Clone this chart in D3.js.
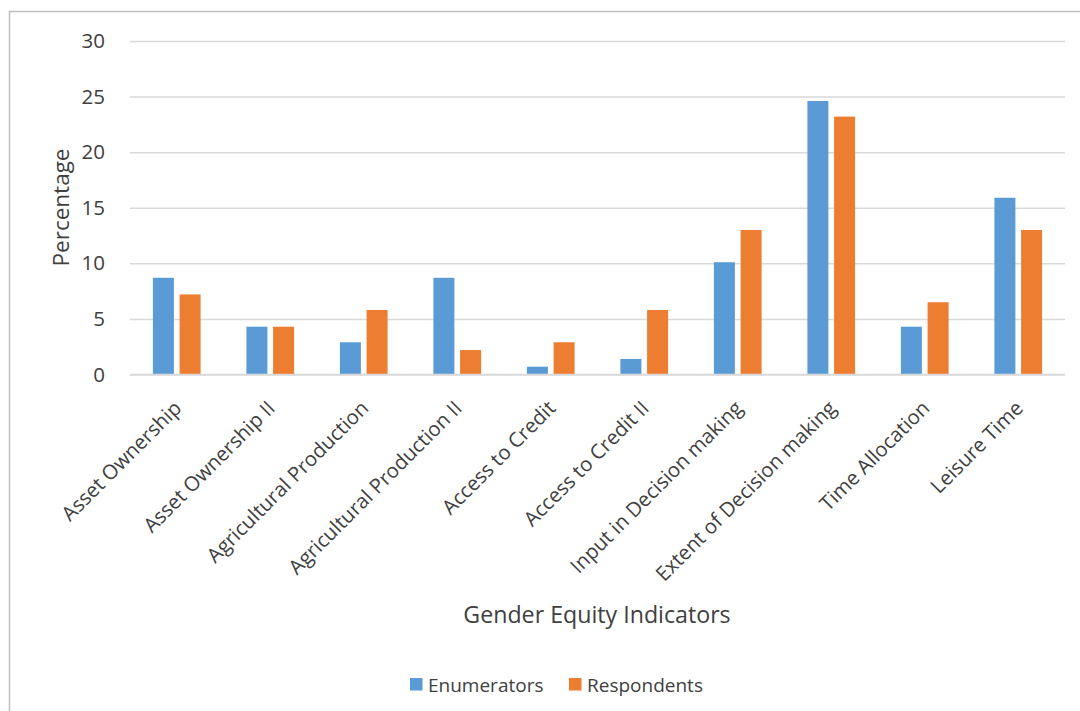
<!DOCTYPE html>
<html>
<head>
<meta charset="utf-8">
<script src="https://cdn.jsdelivr.net/npm/d3@7"></script>
<style>
  html, body { margin: 0; padding: 0; background: #fff; }
  svg { display: block; }
  text { font-family: "Open Sans", "Noto Sans", sans-serif; fill: #404040; }
</style>
</head>
<body>
<svg id="chart" width="1080" height="711"></svg>
<script>
const categories = [
  "Asset Ownership", "Asset Ownership II", "Agricultural Production",
  "Agricultural Production II", "Access to Credit", "Access to Credit II",
  "Input in Decision making", "Extent of Decision making", "Time Allocation", "Leisure Time"
];
const seriesNames = ["Enumerators", "Respondents"];
const enumerators = [8.7, 4.3, 2.9, 8.7, 0.7, 1.4, 10.1, 24.6, 4.3, 15.9];
const respondents = [7.2, 4.3, 5.8, 2.2, 2.9, 5.8, 13.0, 23.2, 6.5, 13.0];
const yTicks = [0, 5, 10, 15, 20, 25, 30];
const colors = ["#5b9bd5", "#ed7d31"];
const xTitle = "Gender Equity Indicators";
const yTitle = "Percentage";

const svg = d3.select("#chart");

// chart area border (extends beyond the right and bottom of the view)
svg.append("rect")
  .attr("x", 9.5).attr("y", 11.5)
  .attr("width", 1200).attr("height", 800)
  .attr("fill", "none").attr("stroke", "#bfbfbf").attr("stroke-width", 1.5);

const plot = { left: 130, right: 1065, top: 41, bottom: 374.5 };

const x0 = d3.scaleBand().domain(categories).range([plot.left, plot.right]).padding(0);
const groupW = 47.7;
const x1 = d3.scaleBand().domain(seriesNames).range([0, groupW]).paddingInner(0.2135).paddingOuter(0);
const y = d3.scaleLinear().domain([0, 30]).range([plot.bottom, plot.top]);

// gridlines
const yAxis = d3.axisLeft(y).tickValues(yTicks).tickSize(-(plot.right - plot.left)).tickPadding(25);
const gy = svg.append("g").attr("transform", `translate(${plot.left},0)`).call(yAxis);
gy.select(".domain").remove();
gy.selectAll(".tick line").attr("stroke", "#d9d9d9").attr("stroke-width", 1.5);
gy.selectAll(".tick text").attr("font-size", 20.5).attr("fill", "#404040")
  .style("font-family", '"Open Sans", sans-serif');

// bars
const data = categories.map((c, i) => ({ cat: c, values: [enumerators[i], respondents[i]] }));
const groups = svg.append("g").selectAll("g").data(data).join("g")
  .attr("transform", d => `translate(${x0(d.cat) + (x0.bandwidth() - groupW) / 2},0)`);
groups.selectAll("rect")
  .data(d => d.values.map((v, k) => ({ name: seriesNames[k], v, k })))
  .join("rect")
  .attr("x", d => x1(d.name))
  .attr("width", x1.bandwidth())
  .attr("y", d => y(d.v))
  .attr("height", d => y(0) - y(d.v))
  .attr("fill", d => colors[d.k]);

// baseline on top
svg.append("line")
  .attr("x1", plot.left).attr("x2", plot.right)
  .attr("y1", y(0)).attr("y2", y(0))
  .attr("stroke", "#d9d9d9").attr("stroke-width", 1.5);

// x labels (rotated)
const xAxis = d3.axisBottom(x0).tickSize(0).tickPadding(0);
const gx = svg.append("g").attr("transform", `translate(0,${plot.bottom})`).call(xAxis);
gx.select(".domain").remove();
gx.selectAll(".tick text")
  .attr("font-size", 20.3)
  .attr("fill", "#404040")
  .style("font-family", '"Open Sans", sans-serif')
  .attr("text-anchor", "end")
  .attr("y", 0).attr("dy", 0)
  .attr("transform", "translate(6,35) rotate(-45)");

// axis titles
svg.append("text")
  .attr("x", 597).attr("y", 623)
  .attr("text-anchor", "middle")
  .attr("font-size", 23.2)
  .text(xTitle);

svg.append("text")
  .attr("transform", "translate(68.5,207.5) rotate(-90)")
  .attr("text-anchor", "middle")
  .attr("font-size", 22.5)
  .text(yTitle);

// legend
const legendItems = [
  { name: seriesNames[0], color: colors[0], x: 410 },
  { name: seriesNames[1], color: colors[1], x: 569 }
];
const lg = svg.append("g").selectAll("g").data(legendItems).join("g")
  .attr("transform", d => `translate(${d.x},678)`);
lg.append("rect").attr("width", 12.5).attr("height", 12.5).attr("fill", d => d.color);
lg.append("text").attr("x", 18).attr("y", 13.5).attr("font-size", 19).text(d => d.name);
</script>
</body>
</html>
